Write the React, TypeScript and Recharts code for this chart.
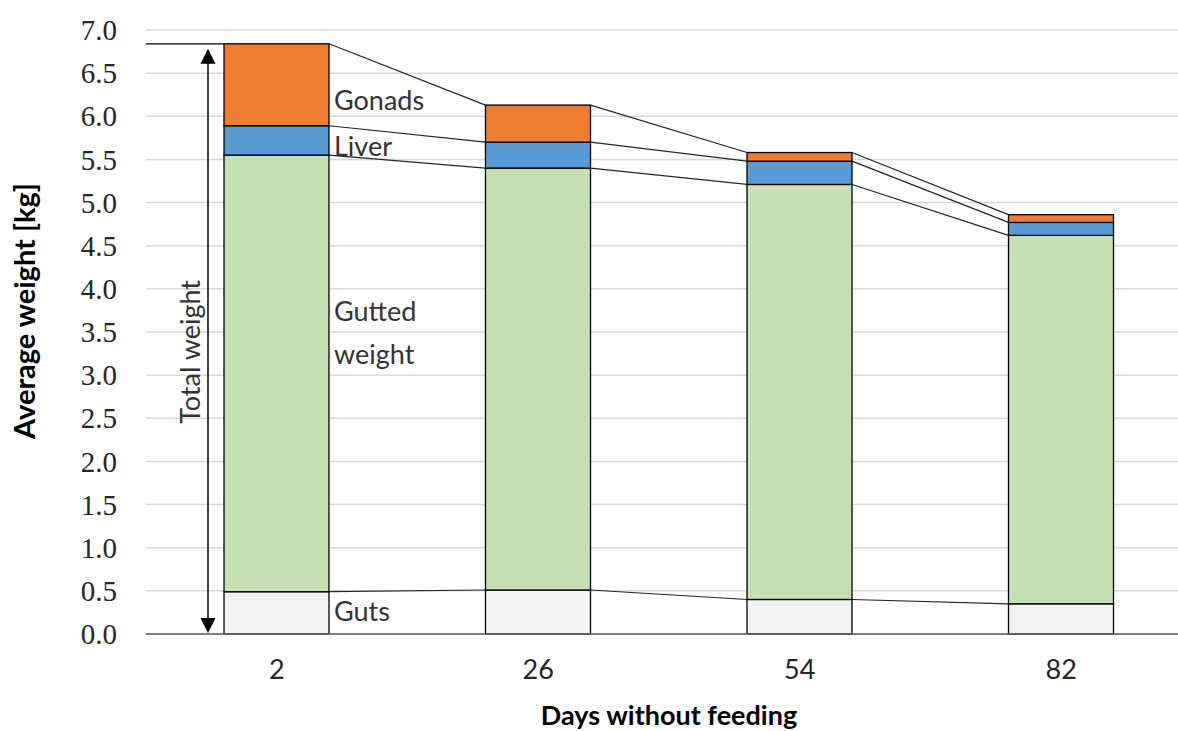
import React from 'react';
import { Bar, BarChart, CartesianGrid, Label, XAxis, YAxis } from 'recharts';

// values (kg)
const days = ['2', '26', '54', '82'];
const guts = [0.49, 0.51, 0.4, 0.35];
const gutted = [5.06, 4.89, 4.81, 4.27];
const liver = [0.34, 0.3, 0.27, 0.15];
const gonads = [0.95, 0.43, 0.1, 0.09];
const yTicks = [0, 0.5, 1, 1.5, 2, 2.5, 3, 3.5, 4, 4.5, 5, 5.5, 6, 6.5, 7];

const seriesNames = ['Guts', 'Gutted weight', 'Liver', 'Gonads'];
const seriesKeys = ['guts', 'gutted', 'liver', 'gonads'];
const seriesValues = [guts, gutted, liver, gonads];
const seriesColors = ['#f2f2f2', '#c5e0b4', '#5b9bd5', '#ed7d31'];
// vertical nudge of the in-chart series label, relative to the segment middle
const labelShift = [-2, -42, 5, 15];

const data = days.map((day, i) => ({
  day,
  guts: guts[i],
  gutted: gutted[i],
  liver: liver[i],
  gonads: gonads[i],
}));

// cumulative tops of each stacked segment
const tops = seriesValues.map((_, s) =>
  days.map((__, i) => seriesValues.slice(0, s + 1).reduce((acc, arr) => acc + arr[i], 0))
);

const CHART_W = 1192;
const CHART_H = 731;
const AXIS_W = 146;
const PLOT_W = CHART_W - AXIS_W;
const STEP = PLOT_W / days.length;

const sans = 'Lato, "Open Sans", sans-serif';
const serif = '"Liberation Serif", "DejaVu Serif", serif';
const textColor = '#333333';

const YTick = (props: any) => {
  const { x, y, payload } = props;
  return (
    <text
      x={x}
      y={y}
      dy="0.35em"
      textAnchor="end"
      fontFamily={serif}
      fontSize={29}
      fill="#262626"
    >
      {Number(payload.value).toFixed(1)}
    </text>
  );
};

const Segment = (props: any) => {
  const { x, y, width, height, index, s } = props;
  const ppu = height / seriesValues[s][index];
  const base = y + height + (s > 0 ? tops[s - 1][index] : 0) * ppu;
  const next = index < days.length - 1;
  const yNext = next ? base - tops[s][index + 1] * ppu : 0;
  const ax = x - 16;
  return (
    <g>
      <rect x={x} y={y} width={width} height={height} fill={seriesColors[s]} stroke="#000" strokeWidth={1.3} />
      {next && (
        <line x1={x + width} y1={y} x2={x + STEP} y2={yNext} stroke="#262626" strokeWidth={1.2} />
      )}
      {index === 0 && (
        <text
          x={x + width + 5}
          y={y + height / 2 + labelShift[s]}
          fontFamily={sans}
          fontSize={27}
          fill={textColor}
          dominantBaseline="central"
        >
          {s === 1 ? (
            <>
              <tspan x={x + width + 5} dy="-0.8em">Gutted</tspan>
              <tspan x={x + width + 5} dy="1.6em">weight</tspan>
            </>
          ) : (
            seriesNames[s]
          )}
        </text>
      )}
      {index === 0 && s === seriesKeys.length - 1 && (
        <g>
          <line x1={x - (STEP - width) / 2} y1={y} x2={x} y2={y} stroke="#000" strokeWidth={1.3} />
          <line x1={ax} y1={y + 8} x2={ax} y2={base - 8} stroke="#000" strokeWidth={1.5} />
          <polygon points={`${ax},${y + 5} ${ax - 7.5},${y + 20} ${ax + 7.5},${y + 20}`} fill="#000" />
          <polygon points={`${ax},${base - 1} ${ax - 7.5},${base - 16} ${ax + 7.5},${base - 16}`} fill="#000" />
          <text
            x={ax - 8}
            y={(y + base) / 2 + 13}
            transform={`rotate(-90 ${ax - 8} ${(y + base) / 2 + 13})`}
            textAnchor="middle"
            fontFamily={sans}
            fontSize={27}
            fill={textColor}
          >
            Total weight
          </text>
        </g>
      )}
    </g>
  );
};

export default function App() {
  return (
    <div
      style={{
        position: 'fixed',
        left: 0,
        top: 0,
        width: 1178,
        height: 731,
        overflow: 'hidden',
        background: '#fff',
      }}
    >
      <BarChart
        width={CHART_W}
        height={CHART_H}
        data={data}
        margin={{ top: 30, right: 0, bottom: 0, left: 0 }}
      >
        <CartesianGrid vertical={false} stroke="#d9d9d9" strokeWidth={1.5} />
        <XAxis
          dataKey="day"
          height={CHART_H - 634}
          tickSize={0}
          tickMargin={26}
          axisLine={{ stroke: '#59626b', strokeWidth: 1.5 }}
          tick={{ fontFamily: sans, fontSize: 27, fill: '#262626' }}
        >
          <Label
            content={({ viewBox }: any) => (
              <text
                x={viewBox.x + viewBox.width / 2}
                y={viewBox.y + 91}
                textAnchor="middle"
                fontFamily={sans}
                fontWeight="bold"
                fontSize={27}
                fill="#000"
              >
                Days without feeding
              </text>
            )}
          />
        </XAxis>
        <YAxis
          type="number"
          domain={[0, 7]}
          ticks={yTicks}
          width={AXIS_W}
          axisLine={false}
          tickLine={false}
          tickSize={0}
          tickMargin={29}
          tick={<YTick />}
        >
          <Label
            content={({ viewBox }: any) => (
              <text
                x={35}
                y={viewBox.y + 281}
                transform={`rotate(-90 35 ${viewBox.y + 281})`}
                textAnchor="middle"
                fontFamily={sans}
                fontWeight="bold"
                fontSize={29}
                fill="#000"
              >
                Average weight [kg]
              </text>
            )}
          />
        </YAxis>
        {seriesKeys.map((key, s) => (
          <Bar
            key={key}
            dataKey={key}
            name={seriesNames[s]}
            stackId="w"
            barSize={105}
            fill={seriesColors[s]}
            isAnimationActive={false}
            shape={(p: any) => <Segment {...p} s={s} />}
          />
        ))}
      </BarChart>
    </div>
  );
}
